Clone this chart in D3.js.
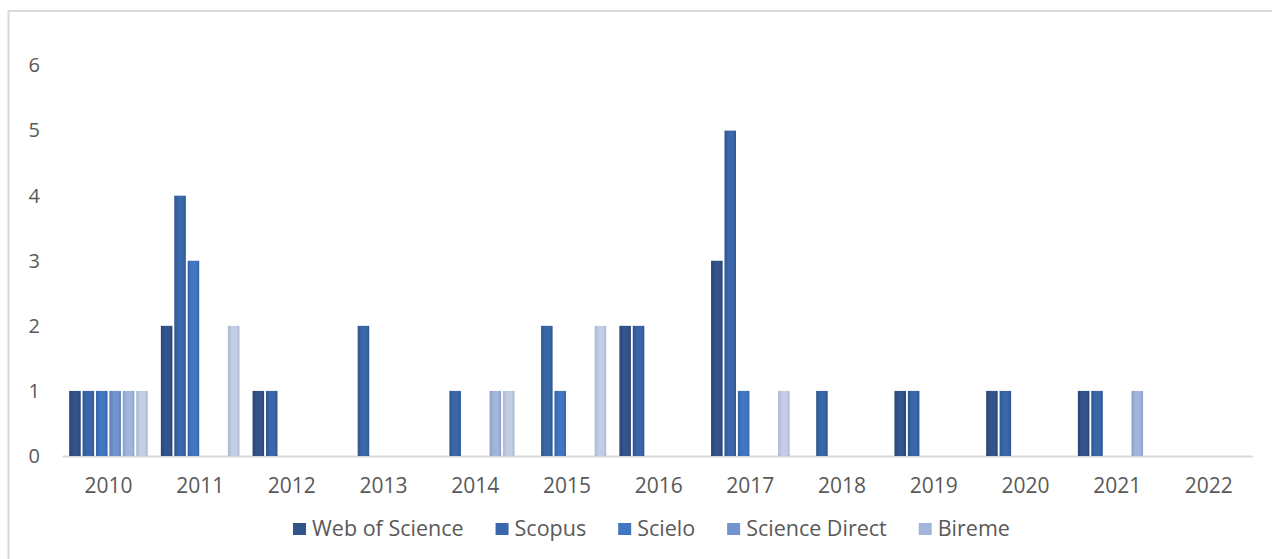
<!DOCTYPE html>
<html>
<head>
<meta charset="utf-8">
<script src="https://cdn.jsdelivr.net/npm/d3@7"></script>
<style>
  html, body { margin: 0; padding: 0; background: #fff; }
  svg { display: block; }
  text { font-family: "Open Sans", sans-serif; fill: #595959; }
</style>
</head>
<body>
<svg id="chart" width="1272" height="559"></svg>
<script>
// ---- data ----
const categories = ["2010","2011","2012","2013","2014","2015","2016","2017","2018","2019","2020","2021","2022"];
const webOfScience  = [1,2,1,0,0,0,2,3,0,1,1,1,0];
const scopus        = [1,4,1,2,1,2,2,5,1,1,1,1,0];
const scielo        = [1,3,0,0,0,1,0,1,0,0,0,0,0];
const scienceDirect = [1,0,0,0,0,0,0,0,0,0,0,0,0];
const bireme        = [1,0,0,0,1,0,0,0,0,0,0,1,0];
const unnamed       = [1,2,0,0,1,2,0,1,0,0,0,0,0];
const legendNames   = ["Web of Science","Scopus","Scielo","Science Direct","Bireme"];
const yTicks        = [0,1,2,3,4,5,6];

const seriesValues = [webOfScience, scopus, scielo, scienceDirect, bireme, unnamed];
const colors = ["#33548A","#3A67A9","#4177C1","#7194CE","#A2B5DA","#C3CEE4"];
const edges  = ["#284472","#2E5690","#3464A8","#5A7DB9","#8B9FC8","#AAB7D2"];

const svg = d3.select("#chart");

// chart border
svg.append("rect")
  .attr("x", 8.5).attr("y", 11).attr("width", 1300).attr("height", 700)
  .attr("fill", "#fff").attr("stroke", "#D9D9D9").attr("stroke-width", 2);

const plot = { left: 62.6, right: 1254.7, top: 65.5, bottom: 456 };

const x0 = d3.scaleBand().domain(categories).range([plot.left, plot.right]).padding(0);
const x1 = d3.scaleBand().domain(d3.range(seriesValues.length))
  .range([0, x0.bandwidth()]).paddingInner(0.14).paddingOuter(0.49);
const y = d3.scaleLinear().domain([0, 6]).range([plot.bottom, plot.top]);

// gradients
const defs = svg.append("defs");
colors.forEach((c, i) => {
  const g = defs.append("linearGradient").attr("id", "g" + i)
    .attr("x1", "0%").attr("x2", "100%").attr("y1", "0%").attr("y2", "0%");
  g.append("stop").attr("offset", "0%").attr("stop-color", edges[i]);
  g.append("stop").attr("offset", "35%").attr("stop-color", c);
  g.append("stop").attr("offset", "75%").attr("stop-color", c);
  g.append("stop").attr("offset", "100%").attr("stop-color", edges[i]);
});

// axis line
svg.append("line")
  .attr("x1", plot.left).attr("x2", plot.right - 2)
  .attr("y1", plot.bottom + 0.5).attr("y2", plot.bottom + 0.5)
  .attr("stroke", "#D9D9D9").attr("stroke-width", 2);

// bars
const groups = svg.append("g").selectAll("g")
  .data(categories).join("g")
  .attr("transform", d => `translate(${x0(d)},0)`);

groups.selectAll("rect")
  .data((d, ci) => seriesValues.map((s, si) => ({ si, v: s[ci] })).filter(e => e.v > 0))
  .join("rect")
  .attr("x", d => x1(d.si))
  .attr("width", x1.bandwidth())
  .attr("y", d => y(d.v))
  .attr("height", d => y(0) - y(d.v))
  .attr("fill", d => `url(#g${d.si})`);

// y axis labels
const yAxis = d3.axisLeft(y).tickValues(yTicks).tickSize(0).tickPadding(0).tickFormat(d3.format("d"));
const yg = svg.append("g").attr("transform", `translate(40,0)`).call(yAxis);
yg.select(".domain").remove();
yg.selectAll("text").style("font-size", "20px").attr("fill", "#595959")
  .style("font-family", "'Open Sans', sans-serif");

// x axis labels
const xAxis = d3.axisBottom(x0).tickSize(0).tickPadding(0);
const xg = svg.append("g").attr("transform", `translate(0,${plot.bottom + 22})`).call(xAxis);
xg.select(".domain").remove();
xg.selectAll("text").style("font-size", "21px").attr("fill", "#595959")
  .style("font-family", "'Open Sans', sans-serif");

// legend
const legend = svg.append("g");
let lx = 293;
legendNames.forEach((name, i) => {
  const gItem = legend.append("g").attr("transform", `translate(${lx},0)`);
  gItem.append("rect").attr("x", 0).attr("y", 523).attr("width", 13).attr("height", 12)
    .attr("fill", colors[i]);
  const t = gItem.append("text").attr("x", 19).attr("y", 535.5)
    .style("font-size", "21.5px").text(name);
  const w = t.node().getComputedTextLength();
  lx += 19 + w + 32;
});
</script>
</body>
</html>
